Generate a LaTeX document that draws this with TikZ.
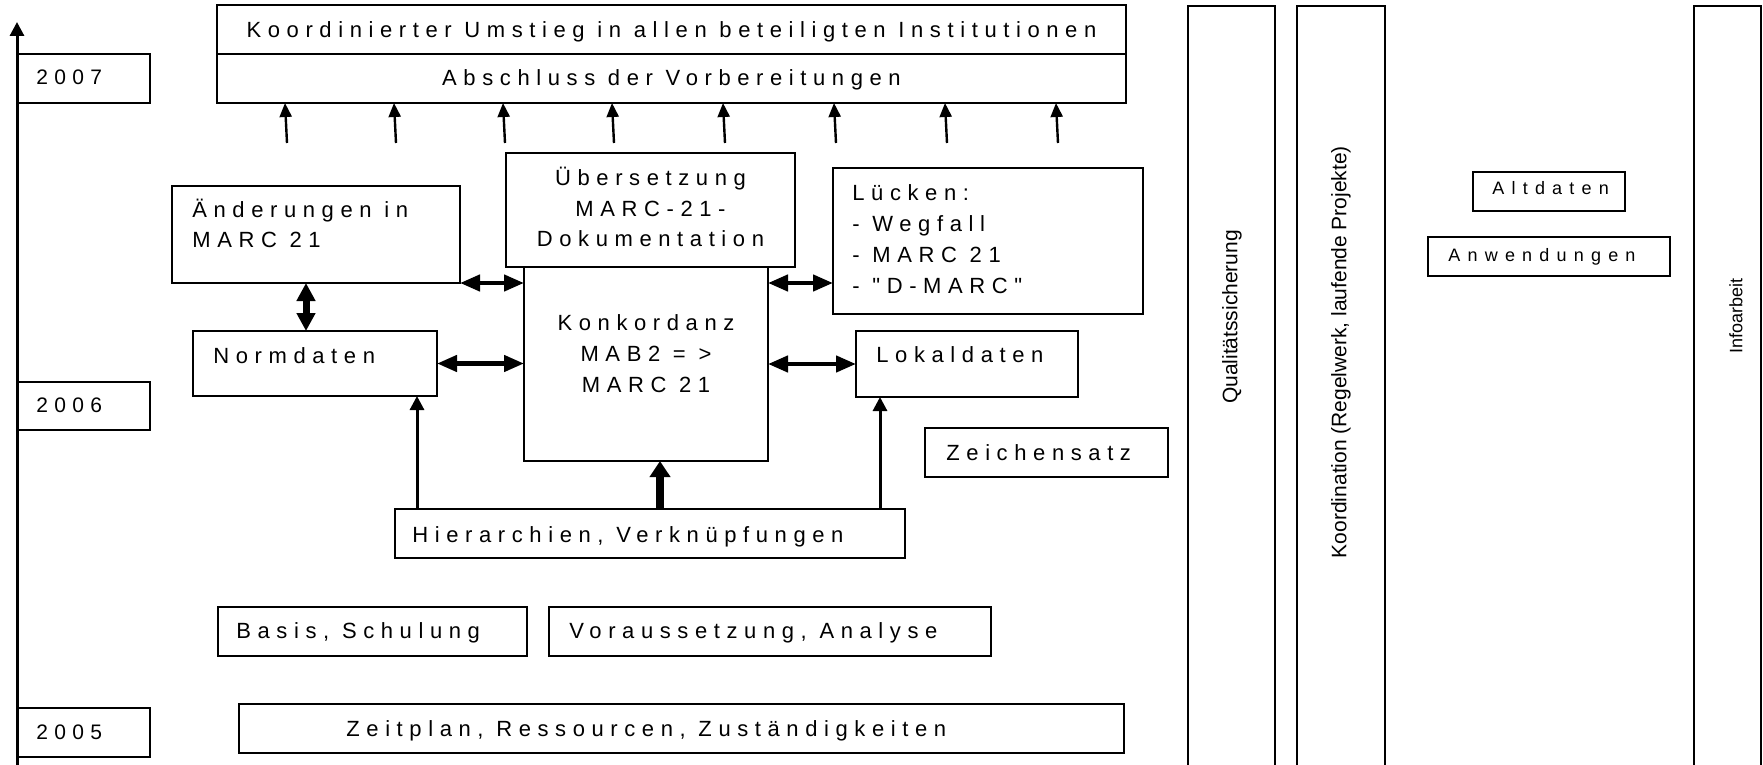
\documentclass[tikz,border=0pt]{standalone}
\usepackage{fontspec}
\setmainfont{Liberation Sans}
\newfontfamily\spf[LetterSpace=30]{Liberation Sans}
\newfontfamily\sps[LetterSpace=40]{Liberation Sans}
\usetikzlibrary{arrows.meta,fit,calc}
\newcommand\mkbox[5]{\coordinate (#1-a) at (#2,#3); \coordinate (#1-b) at (#4,#5); \node[box, fit=(#1-a)(#1-b)] (#1) {};}
\begin{document}
\begin{tikzpicture}[x=0.5pt,y=-0.5pt,
  box/.style={draw, line width=0.75pt, inner sep=0pt, outer sep=0pt},
  lbl/.style={inner sep=0pt, anchor=base west, align=left, font=\spf\fontsize{11}{15.5}\selectfont},
  clbl/.style={inner sep=0pt, anchor=base, align=center, font=\spf\fontsize{11}{15.5}\selectfont},
  ylbl/.style={inner sep=0pt, anchor=base west, font=\spf\fontsize{10.5}{12}\selectfont},
  slbl/.style={inner sep=0pt, anchor=base west, font=\sps\fontsize{9}{11}\selectfont},
  vlbl/.style={inner sep=0pt, rotate=90, font=\fontsize{10.5}{12}\selectfont},
  axisarr/.style={line width=1.5pt, -{Triangle[length=7pt,width=7pt]}},
  uparr/.style={line width=1.2pt, -{Triangle[length=7pt,width=6pt]}},
  thinarr/.style={line width=1.5pt, -{Triangle[length=7pt,width=7pt]}},
  thickarr/.style={line width=4pt, -{Triangle[length=8pt,width=10pt]}},
  dblarr/.style={line width=2.2pt, {Triangle[length=10pt,width=8pt]}-{Triangle[length=10pt,width=8pt]}},
  vdblarr/.style={line width=3.5pt, {Triangle[length=9pt,width=9pt]}-{Triangle[length=9pt,width=9pt]}}
]
\useasboundingbox (0,0) rectangle (1763,765);
\fill[white] (0,0) rectangle (1763,765);

% time axis
\coordinate (axb) at (17,770);
\coordinate (axt) at (17,22);
\draw[axisarr] (axb) -- (axt);

% year boxes
\mkbox{yr7}{17}{54}{150}{103}
\mkbox{yr6}{17}{382}{150}{430}
\mkbox{yr5}{17}{708}{150}{757}
\node[ylbl] at (36,85) {2007};
\node[ylbl] at (36,412) {2006};
\node[ylbl] at (36,739) {2005};

% top boxes
\mkbox{topA}{217}{5}{1126}{54}
\mkbox{topB}{217}{54}{1126}{103}
\node[clbl] at (671.5,38) {Koordinierter Umstieg in allen beteiligten Institutionen};
\node[clbl] at (671.5,86) {Abschluss der Vorbereitungen};

% 8 arrows up to top box
\foreach \i/\x in {1/285,2/394,3/503,4/612,5/723,6/834,7/945,8/1056}{
  \coordinate (ub\i) at (\x+2,143);
  \coordinate (ut\i) at (\x,103);
  \draw[uparr] (ub\i) -- (ut\i |- topB.south);
}

% middle boxes
\mkbox{aend}{172}{186}{460}{283}
\node[lbl, font=\spf\fontsize{11}{15}\selectfont] at (192,248) {Änderungen in\\MARC 21};
\mkbox{ueber}{506}{153}{795}{267}
\node[clbl] at (650.5,247) {Übersetzung\\MARC-21-\\Dokumentation};
\mkbox{konk}{524}{267}{768}{461}
\node[clbl] at (646,392) {Konkordanz\\MAB2 = >\\MARC 21};
\mkbox{luck}{833}{168}{1143}{314}
\node[lbl] at (852,293) {Lücken:\\- Wegfall\\- MARC 21\\- "D-MARC"};
\mkbox{norm}{193}{331}{437}{396}
\node[lbl] at (213,363) {Normdaten};
\mkbox{lokal}{856}{331}{1078}{397}
\node[lbl] at (876,362) {Lokaldaten};
\mkbox{zeich}{925}{428}{1168}{477}
\node[lbl] at (946,460) {Zeichensatz};
\mkbox{hier}{395}{509}{905}{558}
\node[lbl] at (412,542) {Hierarchien, Verknüpfungen};
\mkbox{basis}{218}{607}{527}{656}
\node[lbl] at (236,638) {Basis, Schulung};
\mkbox{vor}{549}{607}{991}{656}
\node[lbl] at (569,638) {Voraussetzung, Analyse};
\mkbox{zeit}{239}{704}{1124}{753}
\node[lbl] at (346,736) {Zeitplan, Ressourcen, Zuständigkeiten};

% tall columns
\mkbox{qual}{1188}{6}{1275}{800}
\mkbox{koord}{1297}{6}{1385}{800}
\mkbox{info}{1694}{6}{1761}{800}
\node[vlbl] at (1232,317) {Qualitätssicherung};
\node[vlbl] at (1341,352) {Koordination (Regelwerk, laufende Projekte)};
\node[vlbl, font=\fontsize{9}{11}\selectfont] at (1736,316) {Infoarbeit};

% right small boxes
\mkbox{alt}{1473}{172}{1625}{211}
\node[slbl] at (1492,195) {Altdaten};
\mkbox{anw}{1428}{237}{1670}{276}
\node[slbl] at (1448,261) {Anwendungen};

% connectors
\draw[dblarr] (aend.south east) -- (aend.south east -| konk.west);
\draw[vdblarr] ([xshift=-5pt]aend.south) -- ([xshift=-5pt]aend.south |- norm.north);
\draw[dblarr] (norm.east) -- (norm.east -| konk.west);
\draw[dblarr] (konk.east |- aend.south) -- (luck.west |- aend.south);
\draw[dblarr] (lokal.west -| konk.east) -- (lokal.west);
\draw[thinarr] ([xshift=-10pt]norm.south east |- hier.north) -- ([xshift=-10pt]norm.south east);
\draw[thinarr] ([xshift=12pt]lokal.south west |- hier.north) -- ([xshift=12pt]lokal.south west);
\draw[thickarr] ([xshift=7pt]konk.south |- hier.north) -- ([xshift=7pt]konk.south);
\end{tikzpicture}
\end{document}
